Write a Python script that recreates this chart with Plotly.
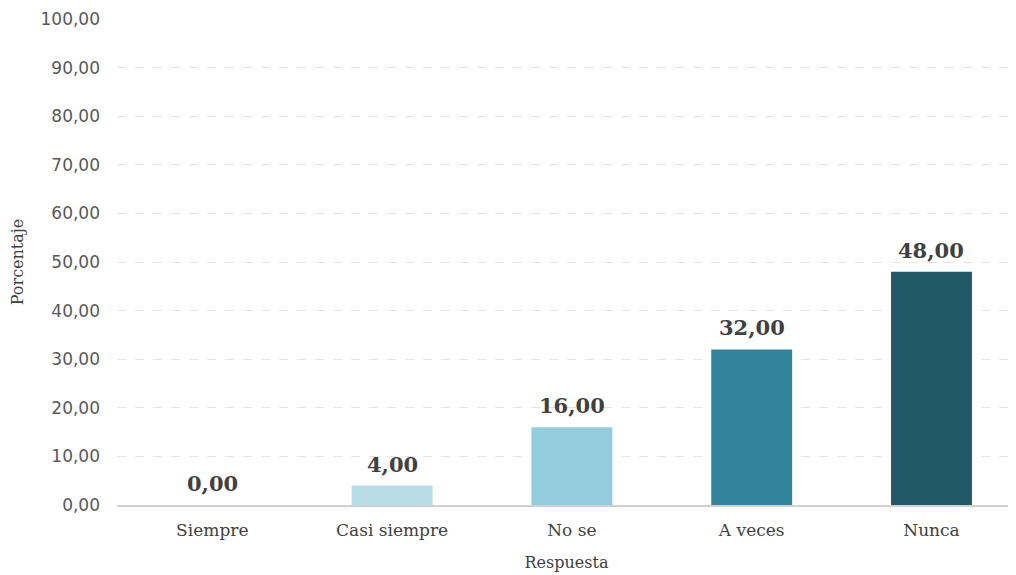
import plotly.graph_objects as go

categorias = ["Siempre", "Casi siempre", "No se", "A veces", "Nunca"]
porcentajes = [0.00, 4.00, 16.00, 32.00, 48.00]
colores = ["#d9eef4", "#b6dde8", "#93cddd", "#31849b", "#215968"]

fig = go.Figure()
fig.add_trace(go.Bar(
    x=categorias, y=porcentajes,
    marker=dict(color=colores, line=dict(width=0)),
    width=0.45,
))
for c, v in zip(categorias, porcentajes):
    fig.add_annotation(
        x=c, y=v, text=f"{v:.2f}".replace(".", ","), showarrow=False,
        yanchor="bottom", yshift=7,
        font=dict(family="DejaVu Serif", size=21, color="#404040", weight="bold"),
    )
# page body has an 8px margin, so the figure is sized/offset to compensate
fig.update_layout(
    width=1008, height=567,
    margin=dict(l=109, r=0, t=11, b=70),
    paper_bgcolor="white", plot_bgcolor="white",
    separators=",.",
    showlegend=False,
    xaxis=dict(
        automargin=False,
        title=dict(text="Respuesta", font=dict(family="DejaVu Serif", size=16, color="#404040"), standoff=18),
        tickfont=dict(family="DejaVu Serif", size=17, color="#404040"),
        showline=True, linecolor="#d0d0d0", linewidth=1.5,
        ticks="", showgrid=False, ticklabelstandoff=9,
        range=[-0.53, 4.47],
    ),
    yaxis=dict(
        automargin=False,
        title=dict(text="Porcentaje", font=dict(family="DejaVu Serif", size=16, color="#404040"), standoff=30),
        tickfont=dict(family="DejaVu Sans", size=17, color="#595959"),
        range=[0, 100], dtick=10, tickformat=".2f",
        showgrid=True, gridcolor="#e4e4e4", griddash="dash", gridwidth=1,
        zeroline=False, showline=False, ticks="", ticklabelstandoff=16,
    ),
)
fig.write_html("out.html")
